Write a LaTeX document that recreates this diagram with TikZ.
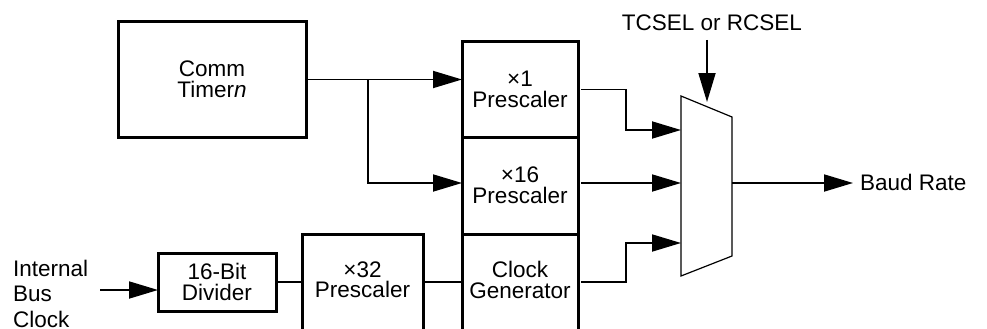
\documentclass[tikz,border=0pt]{standalone}
\usepackage{fontspec}
\setmainfont{Liberation Sans}
\usetikzlibrary{arrows.meta,positioning,calc}

\begin{document}
\begin{tikzpicture}[
  x=1pt, y=-1pt,
  blkline/.style={line width=3pt},
  blk/.style={draw, blkline, inner sep=0pt, outer sep=0pt, align=center,
              font=\fontsize{22.5}{20.5}\selectfont},
  openblk/.style={inner sep=0pt, outer sep=0pt, align=center,
              font=\fontsize{22.5}{20.5}\selectfont},
  lbl/.style={inner sep=0pt, font=\fontsize{22.5}{25.5}\selectfont},
  wire/.style={line width=1.8pt},
  arr/.style={wire, -{Triangle[length=29pt, width=17pt]}},
]
  \useasboundingbox (0,0) rectangle (987,329);
  \clip (0,0) rectangle (987,329);

  % blocks
  \node[blk, minimum width=188pt, minimum height=115pt] (timer) at (212,79.5)
        {Comm\\Timer\textit{n}};
  \node[blk, minimum width=116pt, minimum height=95pt] (pre1) at (520,89.5)
        {×1\\Prescaler};
  \node[blk, minimum width=116pt, minimum height=97pt, below=0pt of pre1] (pre16)
        {×16\\Prescaler};
  \node[openblk, minimum width=116pt, minimum height=92pt, below=0pt of pre16] (clkgen)
        {Clock\\Generator};
  \node[blk, minimum width=118pt, minimum height=58pt] (div) at (217,282)
        {16-Bit\\Divider};
  \node[openblk, minimum width=121pt, minimum height=92pt] (pre32) at (362.5,280)
        {×32\\Prescaler};

  % open bottoms (run off the page)
  \draw[blkline] ([yshift=-30pt]pre32.south west) |- (pre32.north east)
        -- ([yshift=-30pt]pre32.south east);
  \draw[blkline] ([yshift=-30pt]clkgen.south west) -- (clkgen.north west)
        (clkgen.north east) -- ([yshift=-30pt]clkgen.south east);

  % mux
  \draw[line width=1.2pt] (681,96) -- (732,117) -- (732,256) -- (681,276) -- cycle;
  \coordinate (in1) at (681,130);
  \coordinate (in2) at (681,183);
  \coordinate (in3) at (681,243);
  \coordinate (out) at (732,183);
  \coordinate (sel) at (707,102);

  % labels
  \node[lbl] (tcsel) at (712,23) {TCSEL or RCSEL};
  \node[lbl, anchor=west] (baud) at (860,182.5) {Baud Rate};
  \node[lbl, anchor=west, align=left] (ibc) at (13,293.5) {Internal\\Bus\\Clock};
  \coordinate (selin) at (707,40);
  \coordinate (clkin) at (100,290);
  \coordinate (split) at (368,79.5);

  % connectors
  \draw[arr] (timer.east) -- (timer.east -| pre1.west);
  \draw[arr] (split) |- (pre16.west |- in2);
  \draw[arr] (clkin) -- (clkin -| div.west);
  \draw[wire] (div.east) -- (div.east -| pre32.west);
  \draw[wire] (pre32.east |- div.east) -- (clkgen.west |- div.east);
  \draw[arr, shorten <=3pt] (pre1.east) -| (626,130) -- (in1);
  \draw[arr, shorten <=3pt] (pre16.east |- in2) -- (in2);
  \draw[arr, shorten <=3pt] (clkgen.east |- div.east) -| (626,243) -- (in3);
  \draw[arr] (selin) -- (sel);
  \draw[arr, shorten >=7pt] (out) -- (out -| baud.west);

\end{tikzpicture}
\end{document}
